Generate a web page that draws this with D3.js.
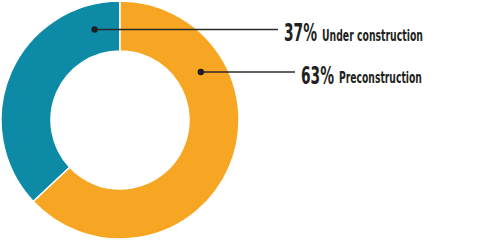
<!DOCTYPE html>
<html>
<head>
<meta charset="utf-8">
<script src="https://cdn.jsdelivr.net/npm/d3@7"></script>
<style>
html,body{margin:0;padding:0;background:#fff;}
svg{display:block;}
</style>
</head>
<body>
<svg id="chart" width="500" height="240"></svg>
<script>
const categories = ["Under construction", "Preconstruction"];
const values = [37, 63];
const pctLabels = ["37%", "63%"];
const colors = ["#0d8aa5", "#f7a623"];

const svg = d3.select("#chart");
const cx = 120, cy = 120, rOuter = 119, rInner = 69;
const total = d3.sum(values);
const startA = -2 * Math.PI * values[0] / total;

const pie = d3.pie().sort(null).value(d => d)
  .startAngle(startA).endAngle(startA + 2 * Math.PI);
const arcs = pie(values);
const arc = d3.arc().innerRadius(rInner).outerRadius(rOuter);

const g = svg.append("g").attr("transform", `translate(${cx},${cy})`);
g.selectAll("path").data(arcs).join("path")
  .attr("d", arc)
  .attr("fill", (d, i) => colors[i])
  .attr("stroke", "#fff")
  .attr("stroke-width", 1.5);

const FONT = "'Liberation Sans Narrow','DejaVu Sans Condensed','Liberation Sans',sans-serif";

// Draw text at (x, baseline y) squeezed horizontally to width w via a transform
function fitText(x, y, size, w, str) {
  const gg = svg.append("g");
  const t = gg.append("text")
    .attr("x", 0).attr("y", 0)
    .attr("font-family", FONT)
    .attr("font-weight", "bold")
    .attr("font-size", size)
    .attr("fill", "#231f20")
    .text(str);
  const nat = t.node().getComputedTextLength();
  const sx = nat > 0 ? w / nat : 1;
  gg.attr("transform", `translate(${x},${y}) scale(${sx},1)`);
}

// labels
const labelY = [29.5, 72];
const lineEnd = [278, 295];
const pctX = [284, 301];
const pctW = [33, 33];
const nameW = [101, 83];
const rMid = (rInner + rOuter) / 2;

categories.forEach((c, i) => {
  const a = (arcs[i].startAngle + arcs[i].endAngle) / 2;
  const dy = labelY[i] - cy;
  const sign = Math.sin(a) >= 0 ? 1 : -1;
  const dx = sign * Math.sqrt(Math.max(0, rMid * rMid - dy * dy));
  const x0 = cx + dx;
  svg.append("line")
    .attr("x1", x0).attr("y1", labelY[i])
    .attr("x2", lineEnd[i]).attr("y2", labelY[i])
    .attr("stroke", "#2a2a2a").attr("stroke-width", 1.5);
  svg.append("circle")
    .attr("cx", x0).attr("cy", labelY[i]).attr("r", 3.2)
    .attr("fill", "#1e1e1e");
  fitText(pctX[i], labelY[i] + 11.5, 25, pctW[i], pctLabels[i]);
  fitText(pctX[i] + pctW[i] + 5, labelY[i] + 11, 15.5, nameW[i], c);
});
</script>
</body>
</html>
